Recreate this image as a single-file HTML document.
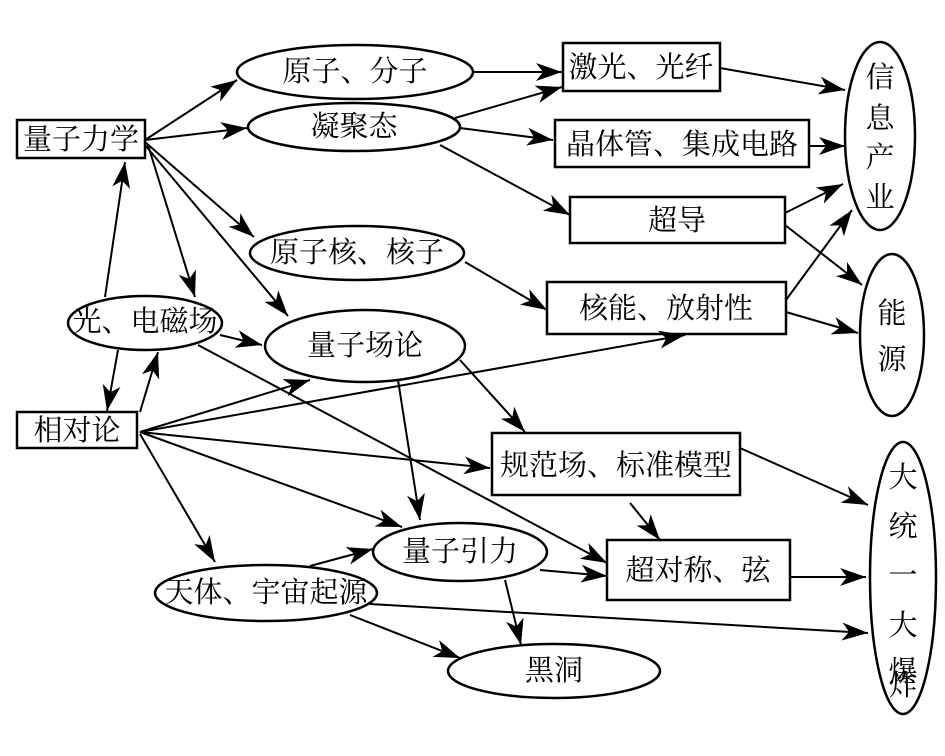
<!DOCTYPE html>
<html><head><meta charset="utf-8"><style>
html,body{margin:0;padding:0;background:#fff;}
svg{display:block;}
text{font-family:"Liberation Serif","Noto Serif CJK SC",serif;font-size:29px;fill:#000;text-anchor:middle;dominant-baseline:central;}
</style></head><body>
<svg width="945" height="756" viewBox="0 0 945 756" xmlns="http://www.w3.org/2000/svg">
<defs>
<marker id="a" markerUnits="userSpaceOnUse" markerWidth="30" markerHeight="20" refX="26" refY="9" orient="auto">
<path d="M0,0 L26,9 L0,18 L7,9 z" fill="#000"/>
</marker>
</defs>
<g fill="none" stroke="#000" stroke-width="2.5">
<rect x="17" y="120" width="128" height="38"/>
<rect x="17" y="412" width="120" height="36"/>
<rect x="563" y="43" width="157" height="48"/>
<rect x="555" y="120" width="254" height="47"/>
<rect x="570" y="197" width="215" height="46"/>
<rect x="547" y="282" width="239" height="52"/>
<rect x="492" y="433" width="248" height="62"/>
<rect x="607" y="540" width="183" height="60"/>
<ellipse cx="355" cy="72" rx="118" ry="27"/>
<ellipse cx="354" cy="127" rx="106" ry="24"/>
<ellipse cx="357" cy="253" rx="107" ry="27"/>
<ellipse cx="145" cy="323" rx="77" ry="27"/>
<ellipse cx="365" cy="346" rx="100" ry="36"/>
<ellipse cx="880" cy="136" rx="35" ry="94"/>
<ellipse cx="892" cy="335" rx="32" ry="81"/>
<ellipse cx="903" cy="578" rx="33" ry="136"/>
<ellipse cx="460" cy="552" rx="87" ry="29"/>
<ellipse cx="266" cy="593" rx="111" ry="28"/>
<ellipse cx="554" cy="671" rx="106" ry="27"/>
</g>
<g stroke="#000" stroke-width="2" fill="none" marker-end="url(#a)">
<line x1="145" y1="140" x2="237" y2="80"/>
<line x1="145" y1="140" x2="247" y2="128"/>
<line x1="145" y1="142" x2="254" y2="237"/>
<line x1="145" y1="145" x2="288" y2="316"/>
<line x1="148" y1="145" x2="195" y2="297"/>
<line x1="105" y1="297" x2="125" y2="162"/>
<line x1="118" y1="350" x2="107" y2="411"/>
<line x1="140" y1="412" x2="158" y2="352"/>
<line x1="220" y1="335" x2="262" y2="345"/>
<line x1="198" y1="345" x2="607" y2="563"/>
<line x1="140" y1="432" x2="310" y2="380"/>
<line x1="140" y1="432" x2="685" y2="335"/>
<line x1="140" y1="432" x2="490" y2="468"/>
<line x1="140" y1="432" x2="402" y2="527"/>
<line x1="140" y1="434" x2="215" y2="562"/>
<line x1="473" y1="72" x2="562" y2="72"/>
<line x1="455" y1="118" x2="562" y2="87"/>
<line x1="460" y1="128" x2="553" y2="140"/>
<line x1="440" y1="145" x2="570" y2="215"/>
<line x1="465" y1="262" x2="547" y2="310"/>
<line x1="398" y1="380" x2="420" y2="520"/>
<line x1="460" y1="360" x2="525" y2="432"/>
<line x1="720" y1="68" x2="845" y2="90"/>
<line x1="809" y1="146" x2="845" y2="146"/>
<line x1="785" y1="213" x2="843" y2="184"/>
<line x1="785" y1="225" x2="862" y2="285"/>
<line x1="786" y1="300" x2="852" y2="210"/>
<line x1="786" y1="312" x2="858" y2="333"/>
<line x1="740" y1="448" x2="868" y2="505"/>
<line x1="630" y1="503" x2="660" y2="540"/>
<line x1="790" y1="577" x2="866" y2="577"/>
<line x1="540" y1="570" x2="607" y2="576"/>
<line x1="505" y1="580" x2="521" y2="645"/>
<line x1="310" y1="566" x2="373" y2="549"/>
<line x1="370" y1="604" x2="868" y2="633"/>
<line x1="350" y1="615" x2="460" y2="658"/>
</g>
<text x="81" y="140">量子力学</text>
<text x="77" y="431">相对论</text>
<text x="641" y="68">激光、光纤</text>
<text x="682" y="145">晶体管、集成电路</text>
<text x="677" y="221">超导</text>
<text x="666" y="309">核能、放射性</text>
<text x="616" y="466">规范场、标准模型</text>
<text x="698" y="571">超对称、弦</text>
<text x="355" y="72">原子、分子</text>
<text x="354" y="127">凝聚态</text>
<text x="357" y="253">原子核、核子</text>
<text x="145" y="322">光、电磁场</text>
<text x="365" y="346">量子场论</text>
<text x="460" y="552">量子引力</text>
<text x="266" y="593">天体、宇宙起源</text>
<text x="554" y="671">黑洞</text>
<text x="880" y="78">信</text>
<text x="880" y="119">息</text>
<text x="880" y="158">产</text>
<text x="880" y="198">业</text>
<text x="892" y="314">能</text>
<text x="892" y="360">源</text>
<text x="903" y="478">大</text>
<text x="903" y="527">统</text>
<text x="903" y="576">一</text>
<text x="903" y="626">大</text>
<text x="903" y="672">爆</text>
<text x="903" y="718" dy="-32">炸</text>
</svg>
</body></html>
